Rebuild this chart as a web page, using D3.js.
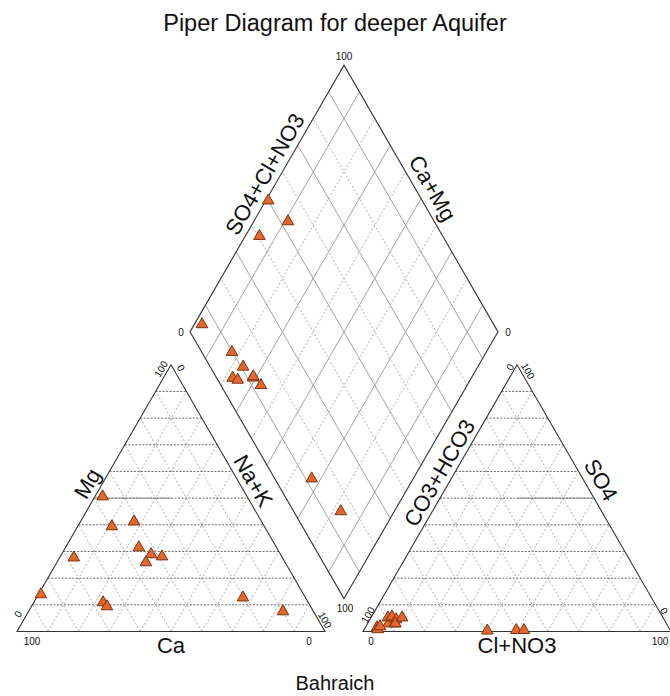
<!DOCTYPE html>
<html><head><meta charset="utf-8">
<script src="https://cdn.jsdelivr.net/npm/d3@7"></script>
<style>body{margin:0;background:#fff} text{font-family:"Liberation Sans",Arial,sans-serif;fill:#111}</style>
</head><body><svg id="c" width="670" height="696"></svg>
<script>
// ---- data (percent of meq) ----
const samples = ["S1","S2","S3","S4","S5","S6","S7","S8","S9","S10","S11","S12","S13"];
const mg   = [13.9, 39.4, 27.7, 50.6, 41.2, 31.5, 10.9,  9.4, 28.9, 25.9, 28.1, 12.7,  7.5];
const naK  = [ 0.8, 11.1,  4.6,  2.5, 17.4, 23.8, 22.5, 24.5, 29.1, 28.9, 33.0, 67.0, 82.6];
const ca   = mg.map((m,i)=>+(100 - m - naK[i]).toFixed(1));
const so4  = [ 0.5,  0.5,  0.3,  1.5,  3.0,  5.2,  0.8,  1.9,  3.0,  5.6,  4.5,  3.0,  5.2];
const cl   = [49.5, 52.0, 40.2,  3.8,  6.8,  5.5,  4.4,  4.6,  8.9,  6.6,  8.5,  9.0, 10.1];
const hco3 = so4.map((s,i)=>+(100 - s - cl[i]).toFixed(1));
const tickValues = [0, 100];
const titleText = "Piper Diagram for deeper Aquifer";
const footText = "Bahraich";

// ---- geometry ----
const svg = d3.select("#c");
const L = 308, x0 = 17, yb = 631.5, gap = 38;
const S60 = Math.sqrt(3)/2;
const x1 = x0 + L + gap;
const xB = x0 + L + gap/2, yB = yb - gap*S60;
const s = d3.scaleLinear().domain([0,100]).range([0,L]);

const cat = (m,n) => [x0 + s(n) + s(m)/2, yb - s(m)*S60];
const ani = (p,q) => [x1 + s(q) + s(p)/2, yb - s(p)*S60];
const dia = (a,c) => [xB + (s(a)-s(c))/2, yB - (s(a)+s(c))*S60];

const line = d3.line();
const g = svg.append("g");
const ks = d3.range(10,100,10);

function tri(f){
  ks.forEach(k=>{
    g.append("path").attr("d", line([f(k,0), f(k,100-k)]))
      .attr("stroke","#444").attr("stroke-width",0.8).attr("stroke-dasharray","2,1.5").attr("fill","none");
    g.append("path").attr("d", line([f(0,k), f(100-k,k)]))
      .attr("stroke","#999").attr("stroke-width",0.8).attr("stroke-dasharray","2,2").attr("fill","none");
    g.append("path").attr("d", line([f(0,100-k), f(100-k,0)]))
      .attr("stroke","#999").attr("stroke-width",0.8).attr("stroke-dasharray","2,2").attr("fill","none");
  });
  g.append("path").attr("d", line([f(0,0), f(100,0), f(0,100)]) + "Z")
    .attr("stroke","#333").attr("stroke-width",1.1).attr("fill","none");
}
tri(cat);
tri(ani);
g.append("path").attr("d", line([cat(50,0), cat(50,25)])).attr("stroke","#888").attr("stroke-width",0.9);
g.append("path").attr("d", line([ani(50,25), ani(50,50)])).attr("stroke","#888").attr("stroke-width",0.9);

ks.forEach(k=>{
  const solid = (k/10)%2===1;
  [[dia(k,0),dia(k,100)],[dia(0,k),dia(100,k)]].forEach(seg=>{
    g.append("path").attr("d", line(seg)).attr("fill","none")
      .attr("stroke", "#999").attr("stroke-width", solid?0.9:0.8)
      .attr("stroke-dasharray", solid ? null : "2,2");
  });
});
g.append("path").attr("d", line([dia(0,0), dia(100,0), dia(100,100), dia(0,100)]) + "Z")
  .attr("stroke","#333").attr("stroke-width",1.1).attr("fill","none");

// ---- tick labels ----
function lab(t, x, y, rot, size){
  svg.append("text").attr("transform",`translate(${x},${y}) rotate(${rot||0})`)
    .attr("text-anchor","middle").attr("dominant-baseline","central")
    .attr("font-size", size||10).text(t);
}
const [t0, t100] = tickValues.map(String);
lab(t100, 32, 641);
lab(t0, 309, 641);
lab(t0, 18, 614, -60);
lab(t100, 161, 369, -60);
lab(t0, 181, 368, 60);
lab(t100, 325, 620, 60);
lab(t0, 371, 641);
lab(t100, 368, 615, -60);
lab(t0, 510, 367, -60);
lab(t100, 528, 371, 60);
lab(t0, 664, 611, 60);
lab(t100, 660, 641);
const dTop = dia(100,100), dLeft = dia(0,100), dRight = dia(100,0), dBot = dia(0,0);
lab(t100, dTop[0], dTop[1]-9);
lab(t0, dLeft[0]-9, dLeft[1]+1);
lab(t0, dRight[0]+10, dRight[1]+1);
lab(t100, dBot[0]+1, dBot[1]+10);

// ---- axis titles ----
function edgeLabel(t, p, q, frac, off, rot){
  const x = p[0] + (q[0]-p[0])*frac, y = p[1] + (q[1]-p[1])*frac;
  const r = rot*Math.PI/180;
  const nx = Math.sin(r), ny = -Math.cos(r);
  svg.append("text").attr("transform",`translate(${x+nx*off},${y+ny*off}) rotate(${rot})`)
    .attr("text-anchor","middle").attr("dominant-baseline","central")
    .attr("font-size",22).text(t);
}
edgeLabel("Mg", cat(0,0), cat(100,0), 0.53, 13, -60);
edgeLabel("Na+K", cat(100,0), cat(0,100), 0.46, 13, 60);
edgeLabel("CO3+HCO3", ani(0,0), ani(100,0), 0.57, 13, -60);
edgeLabel("SO4", ani(100,0), ani(0,100), 0.46, 15, 60);
edgeLabel("SO4+Cl+NO3", dTop, dLeft, 0.435, 14, -60);
edgeLabel("Ca+Mg", dTop, dRight, 0.49, 15, 60);
svg.append("text").attr("x", cat(0,50)[0]).attr("y", 653).attr("text-anchor","middle").attr("font-size",22).text("Ca");
svg.append("text").attr("x", ani(0,50)[0]).attr("y", 653).attr("text-anchor","middle").attr("font-size",22).text("Cl+NO3");
svg.append("text").attr("x", 335).attr("y", 31).attr("text-anchor","middle").attr("font-size",23.5).text(titleText);
svg.append("text").attr("x", 335).attr("y", 690).attr("text-anchor","middle").attr("font-size",20).text(footText);

// ---- points ----
const sym = d3.symbol().type(d3.symbolTriangle).size(58);
const pts = svg.append("g");
samples.forEach((id,i)=>{
  const a = so4[i] + cl[i], c = ca[i] + mg[i];
  [cat(mg[i], naK[i]), ani(so4[i], cl[i]), dia(a, c)].forEach(([x,y])=>{
    pts.append("path").attr("d", sym()).attr("transform",`translate(${x},${y})`)
      .attr("fill","#e4662a").attr("stroke","#7a3414").attr("stroke-width",1);
  });
});
</script></body></html>
